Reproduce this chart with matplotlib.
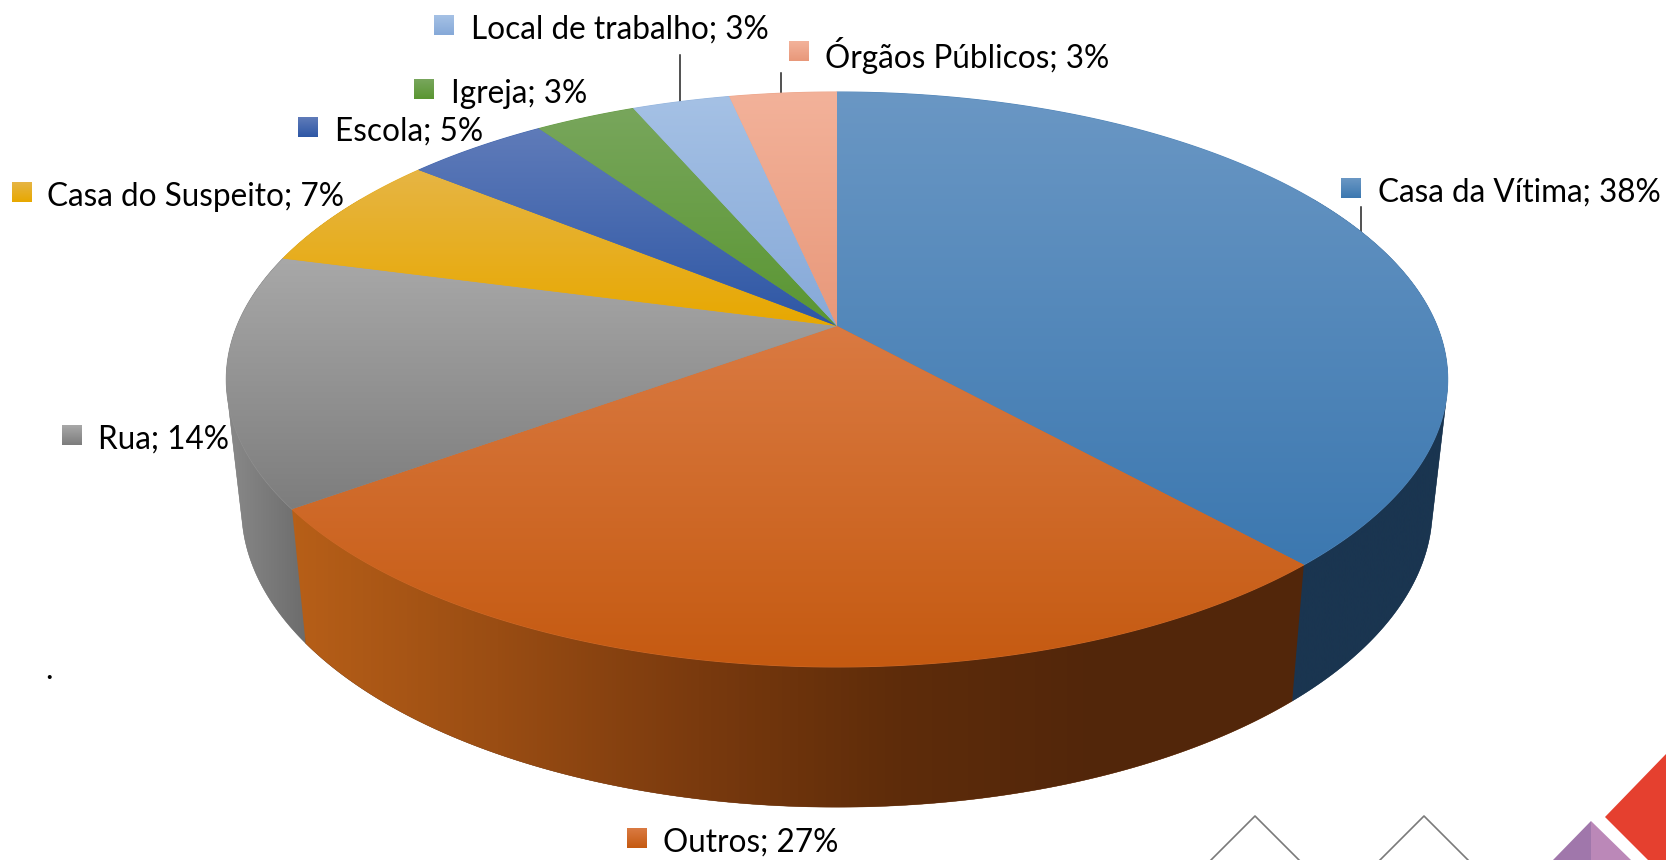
import numpy as np
import matplotlib
matplotlib.use("Agg")
import matplotlib.pyplot as plt
from matplotlib.colors import LinearSegmentedColormap
from matplotlib.patches import Polygon

# ── Data ───────────────────────────────────────────────────────────────────────

categories = ["Casa da Vítima", "Outros", "Rua", "Casa do Suspeito",
              "Escola", "Igreja", "Local de trabalho", "Órgãos Públicos"]
label_pct = [38, 27, 14, 7, 5, 3, 3, 3]
# slice sizes as drawn, slightly different from the rounded labels
values = [38.3, 26.7, 14.1, 6.7, 4.5, 3.2, 3.1, 3.4]

top_light = ["#6a97c4", "#da7a42", "#a8a8a8", "#e6b544", "#5f7bb9", "#78a65c", "#a5c1e5", "#f3b29a"]
top_dark = ["#3c78b0", "#c55a11", "#7d7d7d", "#e8a800", "#2e57a5", "#5a9632", "#86a9d8", "#e8987a"]
wall_stops = [["#1a3550", "#1a3550"],
              ["#b75f18", "#9a4d13", "#7a3a0e", "#5e2c0a", "#52260a", "#52260a"],
              ["#8a8a8a", "#6c6c6c"],
              ["#8a6500", "#8a6500"], ["#1c3564", "#1c3564"], ["#375b1e", "#375b1e"],
              ["#52678a", "#52678a"], ["#8e5d49", "#8e5d49"]]

# ── Layout (pixels) ────────────────────────────────────────────────────────────

CX, CY = 837, 326       # apex of the pie
A, B, K = 600, 277.5, 0.186   # perspective of the top face
LOW_Y, LOW_SX, LOW_SY = 453, 0.975, 1.039

# swatch left, swatch top, text left for every category
label_pos = [(1341, 178, 1378), (627, 828, 663), (62, 425, 98), (12, 182, 47),
             (298, 117, 335), (414, 79, 451), (434, 15, 471), (789, 41, 825)]
leaders = [((1361, 207), (1361, 232)), ((680, 55), (680, 102)), ((781, 73), (781, 95))]
FONT_SIZE = 22.7
WALL_ORDER = [0, 2, 3, 4, 5, 6, 7, 1]   # the front slice goes last, its hull must stay on top


def top_xy(theta):
    x, y = np.sin(theta), np.cos(theta)
    w = 1 + K * y
    return A * x / w, -B * y / w


def low_xy(theta):
    x, y = top_xy(theta)
    return CX + LOW_SX * x, LOW_Y + LOW_SY * y


def convex_hull(pts):
    # monotone chain; the silhouette of the wall is tangent to both curves
    pts = sorted(map(tuple, pts))

    def half(seq):
        out = []
        for p in seq:
            while len(out) > 1 and ((out[-1][0] - out[-2][0]) * (p[1] - out[-2][1])
                                    - (out[-1][1] - out[-2][1]) * (p[0] - out[-2][0])) <= 0:
                out.pop()
            out.append(p)
        return out[:-1]

    return np.array(half(pts) + half(pts[::-1]))


def gradient_fill(ax, pts, colors, vertical=True, zorder=3, base_lw=0.8):
    # solid base under the clipped image, so no seams show between slices
    mid = LinearSegmentedColormap.from_list("m", colors)(0.5)
    ax.add_patch(Polygon(pts, closed=True, facecolor=mid, edgecolor=mid, lw=base_lw, zorder=zorder - 0.1))
    cmap = LinearSegmentedColormap.from_list("g", colors)
    grad = np.linspace(0, 1, 256)
    grad = grad[:, None] if vertical else grad[None, :]
    im = ax.imshow(grad, cmap=cmap, aspect="auto", origin="upper", zorder=zorder,
                   extent=(pts[:, 0].min(), pts[:, 0].max(), pts[:, 1].max(), pts[:, 1].min()))
    clip = Polygon(pts, closed=True, transform=ax.transData, facecolor="none", edgecolor="none")
    ax.add_patch(clip)
    im.set_clip_path(clip)


fig = plt.figure(figsize=(16.66, 8.6), dpi=100)
ax = fig.add_axes([0, 0, 1, 1])

edges = np.deg2rad(np.cumsum([0] + values) * 3.6)

# ── Side wall (the rest is hidden behind the top face) ─────────────────────────

for n, i in enumerate(WALL_ORDER):
    lo, hi = max(edges[i], np.deg2rad(60)), min(edges[i + 1], np.deg2rad(300))
    if lo >= hi:
        continue
    th = np.linspace(lo, hi, 200)
    tx, ty = top_xy(th)
    lx, ly = low_xy(th)
    pts = convex_hull(np.vstack([np.column_stack([tx + CX, ty + CY]), np.column_stack([lx, ly])]))
    gradient_fill(ax, pts, wall_stops[i], vertical=False, zorder=2 + n * 0.01, base_lw=0.3)

# ── Top face ───────────────────────────────────────────────────────────────────

for i in range(len(values)):
    th = np.linspace(edges[i], edges[i + 1], 200)
    x, y = top_xy(th)
    pts = np.vstack([[CX, CY], np.column_stack([x + CX, y + CY])])
    gradient_fill(ax, pts, [top_light[i], top_dark[i]], zorder=3)

# ── Labels ─────────────────────────────────────────────────────────────────────

for i, name in enumerate(categories):
    sx, sy, tx = label_pos[i]
    grad = np.linspace(0, 1, 32)[:, None]
    cmap = LinearSegmentedColormap.from_list("k%d" % i, [top_light[i], top_dark[i]])
    ax.imshow(grad, cmap=cmap, aspect="auto", origin="upper", zorder=4,
              extent=(sx, sx + 20, sy + 20, sy))
    ax.text(tx, sy + 15, "%s; %d%%" % (name, label_pct[i]), fontsize=FONT_SIZE, family="Lato",
            color="black", ha="left", va="center", zorder=5)

for (x0, y0), (x1, y1) in leaders:
    ax.plot([x0, x1], [y0, y1], color="#222222", lw=1.1, zorder=1)

ax.text(49, 670, ".", fontsize=FONT_SIZE, family="Lato", ha="center", va="center", color="black")

# ── Corner decoration ──────────────────────────────────────────────────────────

for apex in (1255, 1424):
    ax.plot([apex - 44, apex, apex + 44], [860, 816, 860], color="#7a7a7a", lw=1.2, zorder=2)
ax.add_patch(Polygon([(1553, 860), (1591, 821), (1591, 860)], facecolor="#a077ab", edgecolor="none"))
ax.add_patch(Polygon([(1591, 860), (1591, 821), (1631, 860)], facecolor="#bb88b8", edgecolor="none"))
ax.add_patch(Polygon([(1605, 817), (1666, 754), (1666, 878)], facecolor="#e5402f", edgecolor="none"))

ax.set_xlim(0, 1666)
ax.set_ylim(860, 0)
ax.axis("off")

fig.savefig("out.png", dpi=100, facecolor="white")
